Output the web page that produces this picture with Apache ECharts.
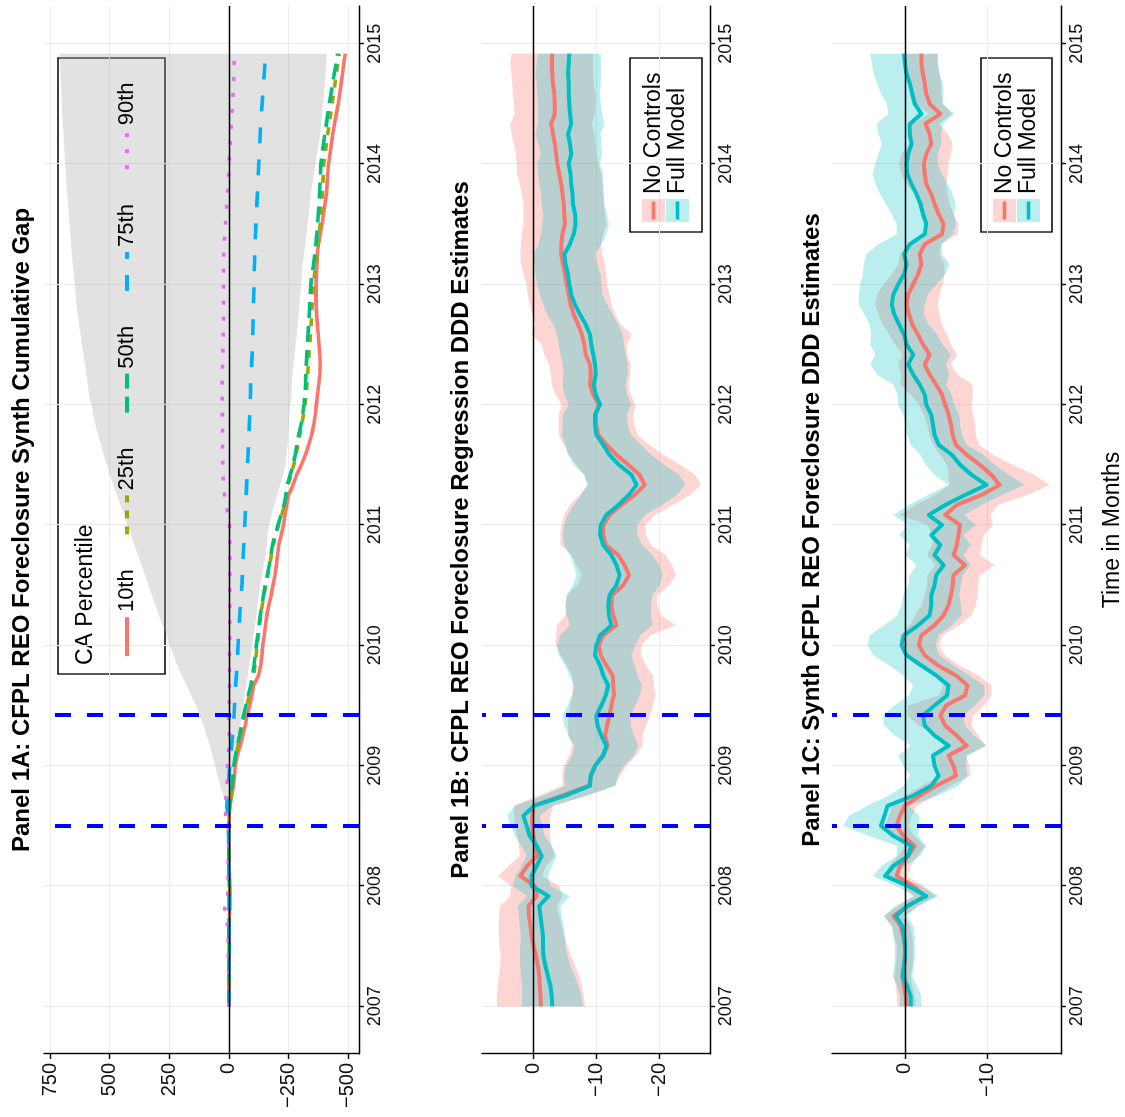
<!DOCTYPE html>
<html>
<head>
<meta charset="utf-8">
<script src="https://cdn.jsdelivr.net/npm/echarts@6/dist/echarts.min.js"></script>
<style>
  html, body { margin: 0; padding: 0; background: #fff; overflow: hidden; }
  /* the figure is laid out landscape and turned a quarter turn counter-clockwise */
  #chart { position: absolute; left: 0; top: 0; width: 1117px; height: 1125px;
           transform-origin: 0 0; transform: translateY(1117px) rotate(-90deg); }
</style>
</head>
<body>
<div id="chart"></div>
<script>
// ---- ticks / labels
const yearTicks = [2007, 2008, 2009, 2010, 2011, 2012, 2013, 2014, 2015];
const gapTicks = [-500, -250, 0, 250, 500, 750];
const regTicks = [-20, -10, 0];
const synTicks = [-10, 0];
const eventDates = [2008.5, 2009.4167];
const percentileNames = ['10th', '25th', '50th', '75th', '90th'];
const modelNames = ['No Controls', 'Full Model'];

// monthly grid Jan 2007 .. Dec 2014
const months = Array.from({ length: 96 }, (_, i) => +(2007 + i / 12).toFixed(4));

// ---- Panel 1A: synth cumulative gap by CA percentile
const p10 = [0,-1,-1,-2,-2,-2,-3,-2,-2,-3,-4,-5,-5,-3,-2,-2,-1,0,0,
  -2,-5,-12,-20,-24,-27,-36,-48,-59,-69,-77,-88,
  -97,-104,-125,-134,-139,-143,-149,-154,-160,-168,
  -178,-186,-194,-200,-205,-210,-220,-230,-236,-243,
  -251,-270,-285,-305,-322,-336,-348,-357,-363,-368,
  -373,-378,-382,-384,-382,-379,-376,-372,-369,-367,
  -366,-367,-368,-370,-372,-377,-384,-392,-398,-404,
  -410,-413,-416,-419,-425,-431,-437,-444,-452,-460,
  -466,-472,-478,-483,-489];
const p25 = [0,-1,-1,-1,-2,-2,-2,-1,-1,-2,-3,-4,-3,-2,-1,-1,0,0,0,
  -1,-3,-9,-15,-19,-23,-30,-39,-48,-57,-66,-76,
  -86,-96,-104,-110,-115,-119,-124,-129,-134,-141,
  -148,-156,-164,-172,-179,-186,-197,-209,-222,-234,
  -242,-249,-261,-273,-282,-290,-298,-307,-314,-320,
  -325,-328,-331,-334,-337,-340,-343,-346,-348,-350,
  -352,-355,-360,-366,-371,-376,-380,-384,-387,-390,
  -393,-395,-397,-399,-404,-410,-416,-422,-428,-434,
  -440,-446,-452,-458,-464];
const p50 = [0,0,-1,-1,-1,-2,-2,-1,-1,-2,-3,-3,-2,-1,-1,0,0,0,0,
  -1,-3,-8,-14,-18,-21,-28,-36,-45,-53,-62,-72,
  -82,-92,-100,-106,-111,-116,-122,-127,-132,-139,
  -146,-153,-162,-170,-177,-184,-195,-207,-220,-232,
  -240,-246,-258,-270,-279,-286,-294,-303,-310,-316,
  -320,-322,-324,-326,-328,-330,-333,-336,-338,-340,
  -342,-345,-350,-356,-361,-366,-370,-373,-376,-379,
  -381,-383,-385,-387,-392,-398,-404,-410,-416,-422,
  -429,-436,-443,-450,-457];
const p75 = [0,0,-1,0,0,-1,-1,0,0,-1,-2,-1,0,0,0,0,0,1,2,
  5,8,6,2,-1,-4,-8,-12,-16,-19,-22,-24,
  -27,-29,-32,-35,-37,-39,-42,-44,-46,-49,
  -52,-55,-57,-59,-61,-63,-65,-67,-69,-71,
  -73,-75,-77,-79,-81,-83,-85,-86,-88,-89,
  -91,-92,-94,-96,-98,-100,-101,-102,-103,-104,
  -105,-106,-107,-108,-109,-111,-112,-114,-116,-118,
  -120,-122,-124,-126,-128,-130,-132,-134,-137,-140,
  -143,-146,-149,-152,-156];
const p90 = [0,-1,-1,0,1,2,1,3,5,8,20,5,2,3,3,2,1,1,0,
  12,15,11,7,6,5,4,-2,-2,-1,0,-2,
  -2,-3,-3,-3,-3,-4,-4,-4,-4,-4,
  -4,-4,-4,-4,-4,-4,-4,-3,2,12,
  18,22,24,25,26,26,26,26,27,27,
  28,28,27,26,25,24,23,22,22,22,
  22,22,22,22,21,19,17,14,11,8,
  5,2,0,-1,-3,-6,-8,-10,-12,-16,
  -18,-20,-21,-22,-24];
// grey range of the synthetic gaps (starts at treatment)
const gapHi = [null,null,null,null,null,null,null,null,null,null,null,null,null,null,null,null,null,null,
  0,2,8,22,36,47,57,68,80,92,105,122,138,
  158,178,197,215,232,248,263,278,293,308,
  322,337,352,367,381,396,411,425,440,455,
  470,485,499,512,525,537,549,560,569,577,
  587,592,598,604,610,616,623,629,634,639,
  643,647,651,655,659,662,666,669,672,675,
  678,681,684,687,690,692,694,697,699,701,
  703,705,707,709,711];
const gapLo = [null,null,null,null,null,null,null,null,null,null,null,null,null,null,null,null,null,null,
  0,0,-2,-5,-10,-15,-20,-27,-34,-41,-48,-55,-61,
  -67,-73,-80,-86,-93,-99,-104,-110,-115,-121,
  -126,-132,-140,-147,-155,-162,-162,-170,-180,-192,
  -204,-216,-228,-238,-243,-247,-250,-253,-255,-258,
  -263,-265,-268,-272,-277,-281,-286,-290,-293,-297,
  -300,-304,-307,-311,-316,-321,-326,-331,-336,-340,
  -344,-351,-358,-364,-371,-378,-384,-388,-392,-396,
  -400,-403,-406,-409,-412];

// ---- Panel 1B: regression DDD estimates
const regNoCtrl = [-1.2,-1.1,-1.0,-0.9,-0.7,-0.4,0.0,0.3,0.5,0.7,0.8,
  -0.5,-0.2,2.1,1.0,-0.6,-0.3,0.0,0.2,0.2,0.0,
  -4.5,-8.8,-9.2,-9.8,-11.0,-11.8,-11.4,-11.7,-12.1,-12.4,
  -12.8,-12.7,-12.6,-11.6,-10.7,-10.4,-11.1,-13.2,-12.7,-12.4,
  -12.5,-14.3,-15.2,-14.5,-13.5,-11.5,-11.1,-11.1,-12.1,-14.0,
  -16.1,-17.7,-16.9,-15.1,-13.2,-11.6,-10.3,-10.0,-9.9,-10.4,
  -9.5,-9.0,-9.1,-9.0,-8.3,-8.1,-7.7,-7.1,-6.4,-5.9,
  -5.6,-5.3,-5.0,-4.7,-4.4,-4.4,-4.6,-5.0,-4.9,-4.8,
  -4.6,-4.4,-4.1,-3.8,-3.6,-3.4,-3.1,-2.8,-3.4,-3.4,
  -3.3,-3.1,-3.0,-2.9,-3.0];
const regFull = [-3.0,-2.9,-2.7,-2.3,-1.9,-1.6,-1.5,-1.5,-1.3,-1.1,-0.9,
  -2.4,0.3,0.3,-0.5,-1.3,-0.5,0.6,1.1,1.6,-0.1,
  -5.0,-9.0,-9.1,-9.8,-11.1,-11.6,-10.8,-10.2,-10.0,-10.8,
  -11.5,-11.9,-11.1,-10.6,-9.8,-10.0,-10.6,-12.4,-12.0,-11.9,
  -12.1,-13.2,-13.7,-13.2,-12.4,-11.1,-10.6,-10.7,-11.6,-13.5,
  -15.2,-16.4,-15.6,-13.6,-12.1,-11.1,-10.0,-9.8,-9.8,-10.6,
  -9.9,-9.6,-9.9,-9.8,-9.5,-9.2,-9.0,-8.3,-7.4,-6.6,
  -6.0,-5.7,-5.5,-5.1,-4.9,-5.8,-6.4,-6.7,-6.6,-6.3,
  -6.2,-6.0,-5.9,-5.6,-6.0,-5.8,-5.5,-6.0,-5.8,-5.7,
  -5.6,-5.6,-5.5,-5.6,-5.7];
// confidence half-widths
const regNoCtrlHw = [7.0,6.9,6.7,6.4,6.0,5.6,5.4,5.2,5.0,4.8,4.5,
  4.2,3.8,3.5,3.0,2.8,2.6,2.6,2.7,2.9,3.2,
  3.8,4.2,4.6,5.0,5.3,5.6,5.9,6.2,6.5,6.6,
  6.6,6.5,6.4,6.3,6.4,6.8,7.5,9.5,7.6,7.3,
  7.2,7.3,7.5,7.6,7.5,7.2,6.8,6.7,7.2,8.2,
  8.8,9.0,8.8,8.3,7.5,6.8,6.3,6.0,5.9,5.9,
  6.0,6.1,6.3,6.5,6.6,6.8,8.0,6.8,6.6,6.5,
  6.5,6.4,6.6,6.7,6.5,6.4,6.5,6.6,6.5,6.4,
  6.5,6.6,6.7,6.5,6.4,6.5,6.6,6.5,6.4,6.5,
  6.6,6.5,6.5,6.6,6.5];
const regFullHw = [4.9,4.7,4.5,4.3,4.0,3.8,3.6,3.5,3.5,3.4,3.4,
  3.4,3.0,2.6,2.4,2.4,2.4,2.4,2.5,2.6,3.0,
  3.5,4.0,4.3,4.6,4.9,5.1,5.2,5.3,5.4,5.4,
  5.4,5.4,5.4,5.5,5.8,6.2,6.4,6.6,6.7,6.8,
  6.8,6.9,6.9,6.8,6.6,6.2,5.9,5.8,6.2,7.0,
  7.6,7.8,7.6,7.2,6.6,6.0,5.5,5.2,5.1,5.0,
  5.0,5.0,5.1,5.2,5.2,5.2,5.2,5.2,5.2,5.1,
  5.0,5.1,5.2,5.0,4.9,5.0,5.2,5.3,5.1,5.0,
  5.0,5.1,5.2,5.0,4.9,5.0,5.2,5.3,5.1,5.0,
  5.0,5.1,5.2,5.1,5.0];

// ---- Panel 1C: synth DDD estimates
const synNoCtrl = [-0.2,-0.1,0.1,0.3,0.1,0.0,0.0,0.2,0.5,1.4,-0.4,
  -2.4,-1.0,1.0,0.6,-0.4,-1.2,0.2,1.0,0.6,0.0,
  -1.8,-3.8,-6.2,-5.9,-5.3,-7.5,-6.3,-4.9,-4.3,-5.0,
  -7.3,-7.6,-6.2,-4.0,-2.4,-1.7,-2.0,-3.6,-4.7,-5.3,
  -5.6,-5.8,-5.9,-7.3,-5.9,-6.3,-6.5,-6.7,-4.9,-6.3,
  -9.3,-11.5,-10.5,-9.1,-7.5,-6.2,-5.8,-5.6,-5.3,-4.9,
  -4.5,-3.8,-3.0,-2.4,-3.0,-2.2,-1.6,-0.9,-0.5,-0.2,
  -0.4,-1.0,-1.6,-2.0,-1.8,-2.4,-4.5,-4.7,-4.1,-3.6,
  -3.2,-2.6,-2.4,-2.3,-2.6,-3.2,-3.0,-2.5,-4.3,-3.0,
  -2.6,-2.4,-2.2,-2.0,-2.0];
const synFull = [-0.7,-0.7,-0.3,0.3,0.1,0.0,0.0,0.1,0.3,1.1,-0.2,
  -2.6,-0.4,2.4,1.4,-0.4,-0.8,1.4,2.9,2.5,2.1,
  -1.0,-3.2,-4.1,-3.6,-3.4,-5.3,-3.6,-2.4,-2.2,-3.6,
  -5.1,-5.3,-3.8,-2.0,-0.2,0.4,0.1,-1.6,-3.0,-3.2,
  -3.2,-3.6,-3.8,-4.7,-3.6,-4.3,-3.2,-4.5,-2.9,-4.9,
  -7.3,-9.9,-8.1,-6.7,-5.7,-4.1,-3.6,-3.4,-3.2,-2.6,
  -2.4,-1.8,-1.0,-0.4,-1.0,-0.2,0.1,0.7,1.3,1.6,
  1.4,0.8,0.1,-0.2,0.1,-0.6,-2.4,-2.6,-2.2,-1.9,
  -1.4,-0.8,-0.3,-0.2,-0.4,-0.8,-0.6,-0.6,-2.0,-1.2,
  -0.9,-0.6,-0.2,0.0,0.1];
const synNoCtrlHw = [1.1,1.1,1.0,1.0,1.0,1.0,1.0,1.1,1.1,1.2,1.2,
  1.3,1.3,1.3,1.3,1.2,1.2,1.3,1.4,1.4,1.5,
  1.8,1.8,1.8,1.9,2.1,2.3,2.6,3.2,4.0,4.6,
  3.2,2.9,2.7,2.6,2.5,2.4,2.6,3.0,3.4,3.3,
  3.2,3.1,3.2,3.6,3.2,3.0,3.1,4.0,5.5,5.0,
  5.6,6.1,5.2,4.0,3.2,2.8,2.8,2.9,3.0,3.2,
  3.8,4.4,3.4,3.2,3.3,3.4,3.5,3.6,3.7,3.8,
  3.8,3.6,3.2,2.8,2.4,2.0,1.9,1.8,1.8,1.8,
  2.0,2.4,2.8,3.0,3.0,2.6,2.2,1.6,1.4,1.6,
  1.8,2.0,2.0,2.0,2.0];
const synFullHw = [1.3,1.3,1.2,1.2,1.2,1.2,1.2,1.3,1.3,1.4,1.4,
  1.5,1.5,1.5,1.4,1.4,1.8,3.0,4.6,4.3,2.5,
  3.0,3.3,3.5,3.8,4.2,4.6,4.8,4.9,4.9,4.9,
  4.6,4.3,4.0,3.9,4.0,4.1,4.2,4.1,3.9,3.6,
  3.4,3.2,3.2,3.3,3.5,3.7,3.9,4.1,4.3,4.4,
  4.5,4.6,4.5,4.2,3.8,3.4,3.3,3.3,3.4,3.4,
  3.3,3.2,4.4,4.6,4.6,4.4,4.0,3.6,3.6,4.0,
  4.2,4.6,5.0,5.2,4.6,3.8,3.4,3.6,3.8,4.2,
  4.4,4.4,4.2,3.8,3.6,3.6,3.8,4.0,4.0,3.4,
  3.8,4.0,4.0,4.0,4.1];

[p10, p25, p50, p75, p90, gapHi, gapLo, regNoCtrl, regFull, regNoCtrlHw, regFullHw,
 synNoCtrl, synFull, synNoCtrlHw, synFullHw].forEach((a, k) => {
  if (a.length !== months.length) throw new Error('array ' + k + ' has ' + a.length);
});

const FONT = '"Liberation Sans", Arial, Helvetica, sans-serif';
const RED = '#F8766D', TEAL = '#00BFC4';
const pctColors = ['#F8766D', '#A3A500', '#00BF7D', '#00B0F6', '#E76BF3'];
const pctDash = ['solid', [8, 8], [16, 8], [16, 16], [4, 12]];

const grids = [
  { left: 63, right: 6, top: 44, height: 315 },
  { left: 63, right: 6, top: 482, height: 228 },
  { left: 63, right: 6, top: 832, height: 229 }
];
const blackLine = { color: '#000', width: 1.4 };

function timeAxis(g) {
  return {
    type: 'value', gridIndex: g, min: 2006.604, max: 2015.313,
    axisLine: { show: true, onZero: false, lineStyle: blackLine },
    axisTick: { show: true, length: 5, customValues: yearTicks, lineStyle: blackLine },
    axisLabel: { customValues: yearTicks, formatter: v => String(v), color: '#111',
                 fontSize: 18, fontFamily: FONT, margin: 7 },
    splitLine: { show: true, lineStyle: { color: '#ebebeb', width: 1.2 } }
  };
}
function valueAxis(g, min, max, ticks) {
  return {
    type: 'value', gridIndex: g, min, max,
    axisLine: { show: true, onZero: false, lineStyle: blackLine },
    axisTick: { show: true, length: 5, customValues: ticks, lineStyle: blackLine },
    axisLabel: { customValues: ticks, color: '#111', fontSize: 20, fontFamily: FONT, margin: 9,
                 formatter: v => (v < 0 ? '\u2212' + Math.abs(v) : String(v)) },
    splitLine: { show: true, lineStyle: { color: '#ebebeb', width: 1.2 } }
  };
}

function refSeries(g) {
  return {
    type: 'line', xAxisIndex: g, yAxisIndex: g, data: [], silent: true,
    markLine: {
      silent: true, symbol: ['none', 'none'], label: { show: false }, emphasis: { disabled: true },
      data: [{ yAxis: 0, lineStyle: { color: '#000', width: 1.4, type: 'solid' } }].concat(
        eventDates.map(d => ({ xAxis: d, lineStyle: { color: '#0000ff', width: 4, type: [16, 16] } })))
    }
  };
}

function bandSeries(name, g, lo, hi, fill) {
  const rows = months.map((m, i) => [m, lo[i], hi[i]]).filter(r => r[1] != null);
  return {
    type: 'custom', name, xAxisIndex: g, yAxisIndex: g, silent: true,
    data: rows, encode: { x: 0, y: [1, 2] },
    renderItem: (params, api) => {
      if (params.dataIndex !== 0) return null;
      const upper = rows.map(r => api.coord([r[0], r[2]]));
      const lower = rows.map(r => api.coord([r[0], r[1]])).reverse();
      return { type: 'polygon', shape: { points: upper.concat(lower) }, style: { fill } };
    }
  };
}

function lineSeries(name, g, values, color, width, dash) {
  return {
    type: 'line', name, xAxisIndex: g, yAxisIndex: g, silent: true,
    data: months.map((m, i) => [m, values[i]]),
    showSymbol: false, symbol: 'none', emphasis: { disabled: true },
    lineStyle: { color, width, type: dash, cap: 'butt', join: 'round' },
    itemStyle: { color }
  };
}

const ciBand = (vals, hw, sign) => vals.map((v, i) => +(v + sign * hw[i]).toFixed(2));

const series = [
  refSeries(0),
  bandSeries('range', 0, gapLo, gapHi, 'rgba(165,165,165,0.32)'),
  lineSeries('10th', 0, p10, pctColors[0], 3.6, pctDash[0]),
  lineSeries('25th', 0, p25, pctColors[1], 3.6, pctDash[1]),
  lineSeries('50th', 0, p50, pctColors[2], 3.6, pctDash[2]),
  lineSeries('75th', 0, p75, pctColors[3], 3.6, pctDash[3]),
  lineSeries('90th', 0, p90, pctColors[4], 3.6, pctDash[4]),

  refSeries(1),
  bandSeries('No Controls', 1, ciBand(regNoCtrl, regNoCtrlHw, -1), ciBand(regNoCtrl, regNoCtrlHw, 1), 'rgba(248,118,109,0.3)'),
  bandSeries('Full Model', 1, ciBand(regFull, regFullHw, -1), ciBand(regFull, regFullHw, 1), 'rgba(0,191,196,0.27)'),
  lineSeries('No Controls', 1, regNoCtrl, RED, 4, 'solid'),
  lineSeries('Full Model', 1, regFull, TEAL, 4, 'solid'),

  refSeries(2),
  bandSeries('No Controls', 2, ciBand(synNoCtrl, synNoCtrlHw, -1), ciBand(synNoCtrl, synNoCtrlHw, 1), 'rgba(248,118,109,0.3)'),
  bandSeries('Full Model', 2, ciBand(synFull, synFullHw, -1), ciBand(synFull, synFullHw, 1), 'rgba(0,191,196,0.27)'),
  lineSeries('No Controls', 2, synNoCtrl, RED, 4, 'solid'),
  lineSeries('Full Model', 2, synFull, TEAL, 4, 'solid')
];

const legendText = { fontSize: 22, fontFamily: FONT, color: '#000' };
function modelLegends(top) {
  return [
    { orient: 'vertical', left: 895, top, padding: 0, itemGap: 1, itemWidth: 23, itemHeight: 23,
      selectedMode: false, textStyle: { fontSize: 23, fontFamily: FONT, color: '#000' },
      data: [{ name: 'No Controls', icon: 'rect', itemStyle: { color: 'rgba(248,118,109,0.3)', borderWidth: 0 } },
             { name: 'Full Model', icon: 'rect', itemStyle: { color: 'rgba(0,191,196,0.27)', borderWidth: 0 } }] },
    { orient: 'vertical', left: 897.5, top, padding: 0, itemGap: 1, itemWidth: 18, itemHeight: 3.6,
      selectedMode: false, textStyle: { fontSize: 23, fontFamily: FONT, color: 'rgba(0,0,0,0)' },
      data: [{ name: 'No Controls', icon: 'rect', itemStyle: { color: RED, borderWidth: 0 } },
             { name: 'Full Model', icon: 'rect', itemStyle: { color: TEAL, borderWidth: 0 } }] }
  ];
}

const titles = [
  ['Panel 1A: CFPL REO Foreclosure Synth Cumulative Gap', 22],
  ['Panel 1B: CFPL REO Foreclosure Regression DDD Estimates', 461],
  ['Panel 1C: Synth CFPL REO Foreclosure DDD Estimates', 812]
];

const option = {
  animation: false,
  backgroundColor: '#fff',
  grid: grids.map(g => Object.assign({ containLabel: false, outerBoundsMode: 'none' }, g)),
  xAxis: [0, 1, 2].map(timeAxis),
  yAxis: [valueAxis(0, -547, 776, gapTicks), valueAxis(1, -28.1, 8.2, regTicks), valueAxis(2, -18.95, 8.85, synTicks)],
  legend: [
    // line keys only: the marker dot is made invisible
    { orient: 'horizontal', left: 459, top: 116, padding: 0, itemGap: 33, itemWidth: 39, itemHeight: 4,
      selectedMode: false, textStyle: legendText, itemStyle: { opacity: 0 },
      lineStyle: { width: 3.8 },
      data: percentileNames }
  ].concat(modelLegends(642), modelLegends(993)),
  graphic: titles.map(([text, y]) => ({
    type: 'text', x: 587, y, silent: true,
    style: { text, font: 'bold 24px ' + FONT, fill: '#000', textAlign: 'center', textVerticalAlign: 'middle' }
  })).concat([
    { type: 'text', x: 587, y: 1113, silent: true,
      style: { text: 'Time in Months', font: '23px ' + FONT, fill: '#000', textAlign: 'center', textVerticalAlign: 'middle' } },
    { type: 'text', x: 452, y: 86, silent: true,
      style: { text: 'CA Percentile', font: '23px ' + FONT, fill: '#000', textAlign: 'left', textVerticalAlign: 'middle' } },
    { type: 'rect', silent: true, shape: { x: 443, y: 58, width: 616, height: 107 },
      style: { fill: 'none', stroke: '#000', lineWidth: 1.3 } },
    { type: 'rect', silent: true, shape: { x: 885, y: 630, width: 174, height: 72 },
      style: { fill: 'none', stroke: '#000', lineWidth: 1.3 } },
    { type: 'rect', silent: true, shape: { x: 885, y: 981, width: 174, height: 71 },
      style: { fill: 'none', stroke: '#000', lineWidth: 1.3 } }
  ]),
  series
};

const chart = echarts.init(document.getElementById('chart'));
chart.setOption(option);
</script>
</body>
</html>
